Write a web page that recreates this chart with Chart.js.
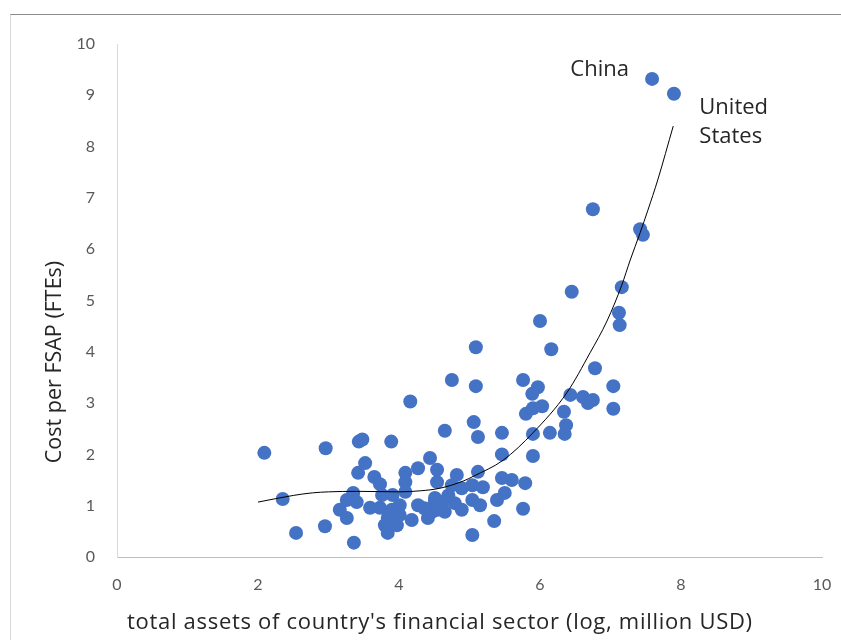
<!DOCTYPE html>
<html>
<head>
<meta charset="utf-8">
<script src="https://cdn.jsdelivr.net/npm/chart.js@4"></script>
<style>
  html, body { margin: 0; padding: 0; background: #fff; }
  #wrap { position: relative; width: 841px; height: 640px; overflow: hidden; }
  #frame { position: absolute; left: 10px; top: 14px; width: 900px; height: 700px;
           border-top: 1px solid #8c8c8c; border-left: 1px solid #d9d9d9; }
  #myChart { position: absolute; left: 0; top: 0; }
</style>
</head>
<body>
<div id="wrap">
  <div id="frame"></div>
  <canvas id="myChart" width="841" height="640"></canvas>
</div>
<script>
// scatter points
const assetsLog = [
  2.09, 2.35, 2.54, 2.96, 2.95, 3.16, 3.26, 3.26, 3.35, 3.40,
  3.36, 3.43, 3.48, 3.42, 3.52, 3.59, 3.65, 3.73, 3.73, 3.76,
  3.80, 3.84, 3.84, 3.89, 3.90, 3.91, 3.97, 4.01, 4.01, 4.09,
  4.09, 4.09, 4.16, 4.18, 4.27, 4.27, 4.41, 4.44, 4.47, 4.51,
  4.55, 4.54, 4.54, 4.65, 4.65, 4.61, 4.75, 4.75, 4.79, 4.82,
  4.89, 4.89, 5.04, 5.04, 5.04, 5.06, 5.09, 5.09, 5.12, 5.12,
  5.15, 5.19, 5.35, 5.39, 5.46, 5.46, 5.46, 5.50, 5.60, 5.76,
  5.76, 5.79, 5.80, 5.89, 5.90, 5.90, 5.90, 5.97, 6.00, 6.03,
  6.14, 6.16, 6.34, 6.35, 6.37, 6.43, 6.45, 6.61, 6.68, 6.75,
  6.75, 6.78, 7.04, 7.04, 7.12, 7.13, 7.16, 7.42, 7.46, 7.59,
  7.90, 4.51, 4.36, 4.70
];
const costFTE = [
  2.03, 1.13, 0.47, 2.12, 0.60, 0.92, 0.76, 1.11, 1.25, 1.07,
  0.28, 2.25, 2.29, 1.64, 1.83, 0.96, 1.56, 1.42, 0.96, 1.21,
  0.62, 0.76, 0.47, 2.25, 0.92, 1.21, 0.62, 1.01, 0.82, 1.64,
  1.46, 1.27, 3.03, 0.72, 1.73, 1.01, 0.76, 1.93, 0.88, 1.07,
  0.92, 1.70, 1.46, 2.46, 0.88, 1.07, 3.45, 1.40, 1.05, 1.60,
  1.34, 0.92, 1.40, 1.11, 0.43, 2.63, 4.09, 3.33, 2.34, 1.66,
  1.01, 1.36, 0.70, 1.11, 2.42, 2.00, 1.54, 1.25, 1.50, 0.94,
  3.45, 1.44, 2.79, 3.18, 2.90, 2.40, 1.97, 3.31, 4.60, 2.94,
  2.42, 4.05, 2.83, 2.40, 2.57, 3.16, 5.17, 3.12, 3.00, 3.06,
  6.78, 3.68, 3.33, 2.89, 4.76, 4.52, 5.26, 6.39, 6.28, 9.32,
  9.03, 1.15, 0.95, 1.20
];

// trend line
const trendX = [2.0, 2.5, 2.77, 3.0, 3.4, 4.0, 4.3, 4.58, 4.91, 5.05, 5.48, 5.9, 6.38, 6.71, 6.95, 7.16, 7.28, 7.42, 7.53, 7.67, 7.89];
const trendY = [1.07, 1.2, 1.25, 1.27, 1.28, 1.27, 1.29, 1.34, 1.48, 1.57, 1.89, 2.42, 3.2, 3.98, 4.6, 5.3, 5.79, 6.32, 6.76, 7.35, 8.4];

// text labels next to the two biggest points
const noteText = ['China', 'United', 'States'];
const noteX = [6.43, 8.26, 8.26];
const noteY = [9.38, 8.64, 8.07];

const xTicks = [0, 2, 4, 6, 8, 10];
const yTicks = [0, 1, 2, 3, 4, 5, 6, 7, 8, 9, 10];

const xTitle = "total assets of country's financial sector (log, million USD)";
const yTitle = 'Cost per FSAP (FTEs)';

const ctx = document.getElementById('myChart');

// point labels + axis titles (excel puts the titles a bit off-centre)
const notes = {
    id: 'notes',
    afterDatasetsDraw(chart) {
        const c = chart.ctx;
        c.save();
        c.font = '22px "Open Sans"';
        c.fillStyle = '#262626';
        c.textBaseline = 'alphabetic';
        c.textAlign = 'left';
        noteText.forEach((t, i) => {
            c.fillText(t, chart.scales.x.getPixelForValue(noteX[i]), chart.scales.y.getPixelForValue(noteY[i]));
        });

        c.textBaseline = 'middle';
        c.font = '22px "Open Sans"';
        if ('letterSpacing' in c) c.letterSpacing = '0.7px';
        c.fillText(xTitle, 127, 623);

        c.letterSpacing = '0px';
        c.font = '21.5px "Open Sans"';
        c.translate(55, 362);
        c.rotate(-Math.PI / 2);
        c.textAlign = 'center';
        c.fillText(yTitle, 0, 0);
        c.restore();
    }
};

new Chart(ctx, {
    type: 'scatter',
    data: {
        datasets: [{
            label: 'FSAP',
            data: assetsLog.map((x, i) => ({ x: x, y: costFTE[i] })),
            backgroundColor: '#4472C4',
            borderWidth: 0,
            pointRadius: 7,
            order: 2
        }, {
            type: 'line',
            label: 'Trend',
            data: trendX.map((x, i) => ({ x: x, y: trendY[i] })),
            borderColor: '#000',
            borderWidth: 1,
            pointRadius: 0,
            fill: false,
            cubicInterpolationMode: 'monotone',
            order: 1
        }]
    },
    options: {
        responsive: false,
        animation: false,
        layout: { padding: { top: 44, right: 19, left: 0, bottom: 0 } },
        plugins: {
            legend: { display: false },
            tooltip: { enabled: false }
        },
        scales: {
            x: {
                type: 'linear',
                min: 0,
                max: 10,
                afterFit: s => { s.height = 83; s.paddingLeft = 0; s.paddingRight = 0; },
                afterBuildTicks: s => { s.ticks = xTicks.map(v => ({ value: v })); },
                grid: { drawOnChartArea: false, drawTicks: false },
                border: { color: '#bfbfbf' },
                ticks: { padding: 18, color: '#595959', font: { family: 'Lato', size: 16 } },
                title: { display: false }
            },
            y: {
                min: 0,
                max: 10,
                afterFit: s => { s.width = 117; s.paddingTop = 0; s.paddingBottom = 0; },
                afterBuildTicks: s => { s.ticks = yTicks.map(v => ({ value: v })); },
                grid: { drawOnChartArea: false, drawTicks: false },
                border: { color: '#d9d9d9' },
                ticks: { padding: 22, color: '#595959', font: { family: 'Lato', size: 16 } },
                title: { display: false }
            }
        }
    },
    plugins: [notes]
});
</script>
</body>
</html>
